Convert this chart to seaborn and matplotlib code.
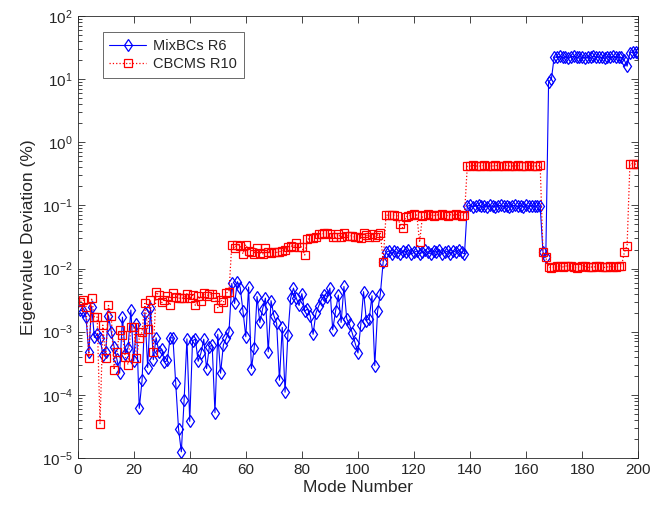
import numpy as np
import pandas as pd
import matplotlib
matplotlib.use("Agg")
import matplotlib.pyplot as plt
import seaborn as sns
from matplotlib.ticker import LogLocator, FixedLocator, NullFormatter, NullLocator

mode = list(range(1, 201))

mixbcs_r6 = [
    2.2e-3, 2.1e-3, 1.7e-3, 4.7e-4, 2.5e-3, 8.1e-4, 9.1e-4, 8.0e-4, 4.3e-4, 4.8e-4,
    1.8e-3, 1.0e-3, 5.8e-4, 3.7e-4, 2.2e-4, 1.7e-3, 4.5e-4, 5.6e-4, 2.2e-3, 3.4e-4,
    1.3e-3, 6.1e-5, 1.7e-4, 2.0e-3, 2.7e-4, 2.4e-3, 3.6e-4, 8.0e-4, 4.8e-4, 5.3e-4,
    3.3e-4, 3.5e-4, 8.0e-4, 8.0e-4, 1.55e-4, 2.9e-5, 1.25e-5, 8.3e-5, 7.7e-4, 3.8e-5,
    7.2e-4, 7.6e-4, 3.4e-4, 4.6e-4, 7.6e-4, 2.6e-4, 5.8e-4, 6.1e-4, 5.2e-5, 9.1e-4,
    2.2e-4, 6.2e-4, 7.9e-4, 1.0e-3, 5.8e-3, 2.8e-3, 6.2e-3, 5.0e-3, 2.1e-3, 8.3e-4,
    5.1e-3, 2.6e-4, 5.5e-4, 3.6e-3, 1.4e-3, 2.3e-3, 3.4e-3, 4.8e-4, 3.1e-3, 1.8e-3,
    1.35e-3, 1.7e-4, 1.17e-3, 1.1e-4, 8.9e-4, 3.4e-3, 4.9e-3, 3.4e-3, 2.6e-3, 4.0e-3,
    2.1e-3, 2.3e-3, 1.77e-3, 9.1e-4, 1.95e-3, 2.55e-3, 3.2e-3, 3.8e-3, 3.6e-3, 4.9e-3,
    1.07e-3, 2.1e-3, 3.8e-3, 1.4e-3, 5.2e-3, 1.6e-3, 1.3e-3, 9.4e-4, 6.6e-4, 4.6e-4,
    1.27e-3, 4.3e-3, 1.5e-3, 1.6e-3, 3.7e-3, 2.9e-4, 2.1e-3, 4.0e-3, 1.28e-2, 0.018,
    0.019, 0.017, 0.019, 0.018, 0.017, 0.019, 0.018, 0.020, 0.017, 0.018,
    0.019, 0.017, 0.018, 0.020, 0.018, 0.017, 0.019, 0.018, 0.020, 0.017,
    0.018, 0.019, 0.017, 0.019, 0.018, 0.020, 0.018, 0.017, 0.097, 0.100,
    0.095, 0.098, 0.100, 0.096, 0.099, 0.094, 0.100, 0.097, 0.095, 0.099,
    0.100, 0.096, 0.098, 0.094, 0.099, 0.100, 0.096, 0.098, 0.095, 0.100,
    0.097, 0.099, 0.096, 0.098, 0.097, 0.018, 0.015, 9.0, 10.0, 22.5,
    22.0, 23.0, 22.0, 22.5, 21.5, 22.5, 23.0, 22.0, 22.5, 22.0,
    21.5, 22.5, 22.0, 23.0, 22.0, 22.5, 22.0, 21.5, 22.5, 22.0,
    23.0, 22.5, 22.0, 22.0, 20.0, 16.0, 26.0, 27.0, 26.5, 26.0,
]

cbcms_r10 = [
    3.0e-3, 3.2e-3, 2.5e-3, 3.9e-4, 3.4e-3, 1.7e-3, 1.7e-3, 3.5e-5, 1.27e-3, 3.8e-4,
    2.6e-3, 1.8e-3, 2.5e-4, 4.7e-4, 1.05e-3, 9.0e-4, 4.0e-4, 3.0e-4, 1.2e-3, 1.2e-3,
    3.8e-4, 7.8e-4, 1.0e-3, 2.8e-3, 1.1e-3, 3.2e-3, 4.8e-4, 4.2e-3, 3.8e-3, 2.9e-3,
    3.2e-3, 3.7e-3, 2.6e-3, 4.1e-3, 3.6e-3, 3.4e-3, 3.4e-3, 3.4e-3, 4.0e-3, 3.4e-3,
    3.8e-3, 2.6e-3, 3.7e-3, 3.1e-3, 4.1e-3, 3.7e-3, 3.9e-3, 4.0e-3, 3.5e-3, 2.4e-3,
    3.2e-3, 2.9e-3, 4.1e-3, 4.3e-3, 0.024, 0.021, 0.024, 0.023, 0.017, 0.024,
    0.019, 0.018, 0.017, 0.021, 0.0175, 0.017, 0.021, 0.018, 0.0174, 0.018,
    0.018, 0.0185, 0.019, 0.020, 0.022, 0.023, 0.022, 0.025, 0.022, 0.022,
    0.0163, 0.029, 0.030, 0.030, 0.031, 0.035, 0.035, 0.036, 0.036, 0.035,
    0.032, 0.031, 0.035, 0.031, 0.037, 0.033, 0.033, 0.033, 0.031, 0.031,
    0.030, 0.036, 0.034, 0.032, 0.035, 0.032, 0.034, 0.036, 0.0128, 0.070,
    0.070, 0.070, 0.070, 0.068, 0.050, 0.044, 0.066, 0.068, 0.070, 0.072,
    0.070, 0.026, 0.068, 0.070, 0.072, 0.070, 0.069, 0.071, 0.070, 0.072,
    0.070, 0.069, 0.071, 0.070, 0.072, 0.070, 0.069, 0.071, 0.42, 0.42,
    0.43, 0.42, 0.42, 0.42, 0.43, 0.42, 0.42, 0.42, 0.43, 0.42,
    0.42, 0.42, 0.43, 0.42, 0.42, 0.42, 0.43, 0.42, 0.42, 0.42,
    0.43, 0.42, 0.42, 0.42, 0.43, 0.018, 0.015, 0.0105, 0.0103, 0.0106,
    0.0108, 0.0110, 0.0106, 0.0110, 0.0109, 0.0111, 0.0105, 0.0103, 0.0107, 0.0111,
    0.0108, 0.0104, 0.0106, 0.0105, 0.0108, 0.0109, 0.0107, 0.0104, 0.0106, 0.0108,
    0.0107, 0.0106, 0.0110, 0.0109, 0.018, 0.023, 0.45, 0.46, 0.45, 0.45,
]

series_names = ["MixBCs R6", "CBCMS R10"]
x_ticks = [0, 20, 40, 60, 80, 100, 120, 140, 160, 180, 200]

sns.set_style("ticks")
plt.rcParams["font.family"] = ["Liberation Sans", "DejaVu Sans"]
plt.rcParams["mathtext.fontset"] = "custom"
plt.rcParams["mathtext.rm"] = "Liberation Sans"
plt.rcParams["mathtext.it"] = "Liberation Sans:italic"
plt.rcParams["mathtext.default"] = "regular"

df = pd.DataFrame({"mode": mode, "a": mixbcs_r6, "b": cbcms_r10})

fig = plt.figure(figsize=(6.52, 5.14), dpi=100)
ax = fig.add_axes([0.119, 0.109, 0.860, 0.860])

sns.lineplot(data=df, x="mode", y="a", ax=ax, color="#0000ff", linestyle="-",
             linewidth=0.8, marker="d", markersize=6.5, markerfacecolor="none",
             markeredgecolor="#0000ff", markeredgewidth=0.9, label=series_names[0])
sns.lineplot(data=df, x="mode", y="b", ax=ax, color="#ff0000", linestyle=":",
             linewidth=0.9, marker="s", markersize=5.5, markerfacecolor="none",
             markeredgecolor="#ff0000", markeredgewidth=0.9, label=series_names[1])

ax.set_yscale("log")
ax.set_xlim(0, 200)
ax.set_ylim(1e-5, 1e2)
ax.xaxis.set_major_locator(FixedLocator(x_ticks))
ax.xaxis.set_minor_locator(NullLocator())
ax.yaxis.set_major_locator(LogLocator(base=10, numticks=20))
ax.yaxis.set_minor_locator(LogLocator(base=10, subs=np.arange(2, 10), numticks=20))
ax.yaxis.set_minor_formatter(NullFormatter())
ax.tick_params(axis="both", which="both", direction="in", top=True, right=True,
               labelsize=11, colors="#262626", width=0.6)
ax.tick_params(axis="both", which="major", length=5)
ax.tick_params(axis="y", which="minor", length=3)
for s in ax.spines.values():
    s.set_linewidth(0.6)
    s.set_color("#262626")

ax.set_xlabel("Mode Number", fontsize=12.5, color="#262626", labelpad=2)
ax.set_ylabel("Eigenvalue Deviation (%)", fontsize=12.5, color="#262626", labelpad=4)

leg = ax.legend(loc="upper left", bbox_to_anchor=(0.045, 0.963), fontsize=10.5,
                frameon=True, fancybox=False, edgecolor="#262626",
                handlelength=2.5, borderpad=0.45, labelspacing=0.3, handletextpad=0.5,
                borderaxespad=0.0)
leg.get_frame().set_linewidth(0.6)

fig.savefig("out.png", dpi=100)
